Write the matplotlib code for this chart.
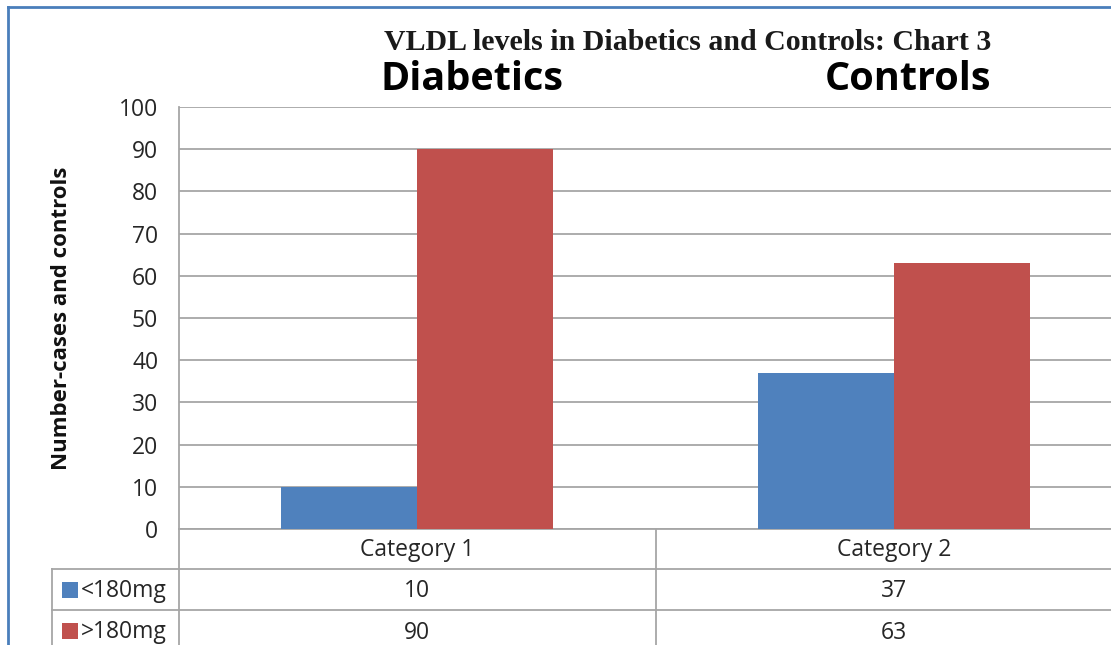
import numpy as np
import matplotlib
matplotlib.use("Agg")
import matplotlib.pyplot as plt
from matplotlib.lines import Line2D
from matplotlib.patches import Rectangle
import matplotlib.transforms as mtransforms

# chart data
categories = ["Category 1", "Category 2"]
series_names = ["<180mg", ">180mg"]
below_180 = [10, 37]
above_180 = [90, 63]
colors = ["#4f81bd", "#c0504d"]

W, H = 1111, 645
fig = plt.figure(figsize=(W / 100, H / 100), dpi=100)
fig.patch.set_facecolor("white")

def fx(px):
    return px / W

def fy(py):
    return 1 - py / H

txt = dict(fontsize=16.5, fontfamily="Open Sans", color="#262626")

# plot area (right side runs past the image edge like the cropped original)
ax = fig.add_axes([fx(179), fy(529), (1132 - 179) / W, (529 - 107) / H])

x = np.arange(len(categories))
w = 0.285
ax.bar(x - w / 2, below_180, w, color=colors[0], zorder=3)
ax.bar(x + w / 2, above_180, w, color=colors[1], zorder=3)

ax.set_xlim(-0.5, 1.5)
ax.set_ylim(0, 100)
ax.set_yticks(range(0, 101, 10))
ax.yaxis.grid(True, color="#a6a6a6", linewidth=1.3, zorder=0)
ax.set_xticks([])
for s in ["top", "right"]:
    ax.spines[s].set_visible(False)
for s in ["left", "bottom"]:
    ax.spines[s].set_color("#a6a6a6")
    ax.spines[s].set_linewidth(1.3)
ax.tick_params(axis="y", length=0, pad=15, labelsize=16.5, labelcolor="#262626")
for lab in ax.get_yticklabels():
    lab.set_fontfamily("Open Sans")

fig.text(fx(62), fy(318), "Number-cases and controls", rotation=90,
         ha="center", va="center", fontsize=16, fontweight="bold",
         fontfamily="Open Sans", color="#111111")

# data table under the plot
grid_kw = dict(color="#a6a6a6", linewidth=1.3)
for py in [569, 610]:
    fig.add_artist(Line2D([fx(52), 1.02], [fy(py), fy(py)], **grid_kw))
fig.add_artist(Line2D([fx(52), fx(52)], [fy(569), -0.02], **grid_kw))
fig.add_artist(Line2D([fx(179), fx(179)], [fy(529), -0.02], **grid_kw))

trans = mtransforms.blended_transform_factory(ax.transData, fig.transFigure)
for xi in np.arange(len(categories) - 1) + 0.5:
    fig.add_artist(Line2D([xi, xi], [fy(529), -0.02], transform=trans, **grid_kw))

for i, cat in enumerate(categories):
    fig.text(i, fy(550), cat, transform=trans, ha="center", va="center", **txt)
    fig.text(i, fy(591), str(below_180[i]), transform=trans, ha="center",
             va="center", **txt)
    fig.text(i, fy(633), str(above_180[i]), transform=trans, ha="center",
             va="center", **txt)

for name, col, py in zip(series_names, colors, [590, 631]):
    fig.add_artist(Rectangle((fx(62), fy(py + 8)), 16 / W, 16 / H,
                             facecolor=col, edgecolor="none"))
    fig.text(fx(81), fy(py + 1), name, ha="left", va="center", **txt)

# titles
fig.text(fx(688), fy(43), "VLDL levels in Diabetics and Controls: Chart 3",
         ha="center", va="center", fontsize=21.5, fontweight="bold",
         fontfamily="Liberation Serif", color="#1a1a1a")
fig.text(fx(472), fy(80), "Diabetics", ha="center", va="center",
         fontsize=28.5, fontweight="bold", fontfamily="Open Sans")
fig.text(fx(908), fy(80), "Controls", ha="center", va="center",
         fontsize=28.5, fontweight="bold", fontfamily="Open Sans")

# outer chart border (cropped at right and bottom)
fig.add_artist(Line2D([fx(8), 1.02], [fy(7), fy(7)], color="#4a7ebb", linewidth=2))
fig.add_artist(Line2D([fx(8), fx(8)], [fy(7), -0.02], color="#4a7ebb", linewidth=2))

fig.savefig("out.png", dpi=100)
